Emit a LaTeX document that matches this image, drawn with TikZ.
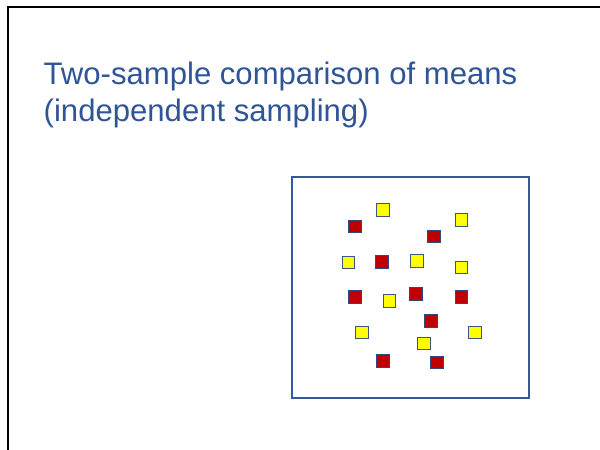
\documentclass[tikz,border=0pt]{standalone}
\usepackage{fontspec}
\setmainfont{Liberation Sans}
\definecolor{titleblue}{HTML}{2F5597}
\definecolor{boxblue}{HTML}{34589A}
\definecolor{sqred}{HTML}{C00000}
\definecolor{sqyellow}{HTML}{FFFF00}
\definecolor{sqedge}{HTML}{2E4A80}
\tikzset{
  titletext/.style={anchor=base west, inner sep=0pt, text=titleblue, font=\fontsize{31.1}{37}\selectfont},
  redsq/.style={draw=sqedge, fill=sqred, line width=0.9pt, minimum size=12.6pt, inner sep=0pt},
  yelsq/.style={draw=sqedge!80!gray, fill=sqyellow, line width=0.9pt, minimum size=12.6pt, inner sep=0pt},
}
\begin{document}
\begin{tikzpicture}[x=1pt,y=-1pt]
\useasboundingbox (0,0) rectangle (600,450);
\fill[white] (0,0) rectangle (600,450);
% frame
\coordinate (fb) at (7.8,450);
\coordinate (fc) at (7.8,6.7);
\coordinate (fr) at (600,6.7);
\draw[line width=2.3pt, black] (fb) -- (fc) -- (fr);
% title
\node[titletext] (t1) at (43.5,84) {Two-sample comparison of means};
\node[titletext] (t2) at (43.5,121.7) {(independent sampling)};
% population box
\node[draw=boxblue, line width=2pt, minimum width=237pt, minimum height=221pt, inner sep=0pt] (pop) at (410.8,287.2) {};
% squares
\node[yelsq] (y1) at (382.8,210.2) {};
\node[redsq] (r1) at (355,226.5) {};
\node[yelsq] (y2) at (461.5,220.2) {};
\node[redsq] (r2) at (433.7,236.5) {};
\node[yelsq] (y3) at (348.5,262.5) {};
\node[redsq] (r3) at (382,261.7) {};
\node[yelsq] (y4) at (417,260.8) {};
\node[yelsq] (y5) at (461.5,267.5) {};
\node[redsq] (r4) at (355,296.8) {};
\node[yelsq] (y6) at (389.3,300.8) {};
\node[redsq] (r5) at (416,294.2) {};
\node[redsq] (r6) at (461.5,296.8) {};
\node[redsq] (r7) at (430.7,320.8) {};
\node[yelsq] (y7) at (361.8,332.5) {};
\node[yelsq] (y8) at (474.7,332.5) {};
\node[yelsq] (y9) at (424,343.5) {};
\node[redsq] (r8) at (382.7,360.8) {};
\node[redsq] (r9) at (437,362.5) {};
\end{tikzpicture}
\end{document}
